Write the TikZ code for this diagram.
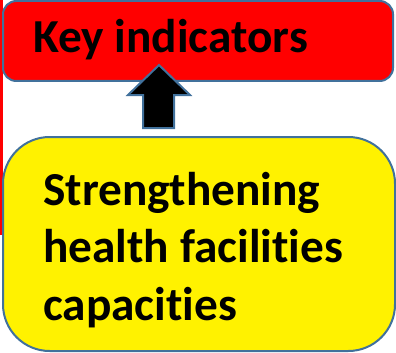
\documentclass[tikz,border=0pt]{standalone}
\usepackage{fontspec}
\setmainfont[Ligatures={NoCommon,NoRare}]{Carlito}
\definecolor{edgeblue}{RGB}{65,113,156}
\tikzset{
  boxline/.style={draw=edgeblue, line width=1.5pt},
  bigtext/.style={font=\bfseries\fontsize{35.5}{43}\selectfont, inner sep=0pt, align=left}
}
\begin{document}
\begin{tikzpicture}[x=0.75pt,y=-0.75pt]
\useasboundingbox (0,0) rectangle (396,353);

% thin red strip down the left side
\fill[red] (0,0) rectangle (3,235);

% top box
\draw[boxline, fill=red, rounded corners=10] (3,1) rectangle (393,81);
\node (key) [bigtext, anchor=base west] at (33,53) {Key indicators};

% block arrow pointing up
\draw[boxline, fill=black] (143,128) -- (174,128) -- (174,95) -- (190,95)
      -- (159,65) -- (128,95) -- (143,95) -- cycle;

% bottom box
\draw[boxline, fill=yellow, rounded corners=35] (3,137) rectangle (395,351);
\node (aim) [bigtext, anchor=north west] at (43,172)
      {Strengthening\\health facilities\\capacities};
\end{tikzpicture}
\end{document}
